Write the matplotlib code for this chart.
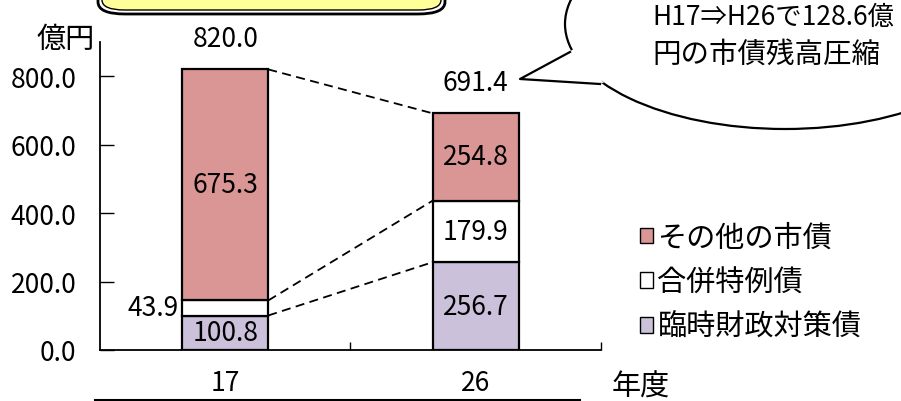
import matplotlib
matplotlib.use("Agg")
import matplotlib.pyplot as plt
import numpy as np
from matplotlib.patches import Patch, Ellipse, Polygon, FancyBboxPatch
from matplotlib.lines import Line2D

plt.rcParams['font.family'] = ['Noto Sans CJK JP', 'DejaVu Sans']

years = ["17", "26"]
rinji = [100.8, 256.7]      # 臨時財政対策債
gappei = [43.9, 179.9]      # 合併特例債
sonota = [675.3, 254.8]     # その他の市債
totals = [820.0, 691.4]

c_sonota = "#D99694"
c_gappei = "#FFFFFF"
c_rinji = "#CCC1DA"

W, H = 901, 402
fig = plt.figure(figsize=(W / 100, H / 100), dpi=100)


def fx(px):
    return px / W


def fy(py):
    return (H - py) / H


ax = fig.add_axes([fx(100), fy(351), fx(601) - fx(100), fy(43) - fy(351)])

x = np.arange(len(years))
bw = 0.343
b1 = np.array(rinji)
b2 = b1 + np.array(gappei)
ax.bar(x, rinji, bw, color=c_rinji, edgecolor="black", linewidth=1.6, zorder=3)
ax.bar(x, gappei, bw, bottom=b1, color=c_gappei, edgecolor="black", linewidth=1.6, zorder=3)
ax.bar(x, sonota, bw, bottom=b2, color=c_sonota, edgecolor="black", linewidth=1.6, zorder=3)

# dashed connectors between bars
for lvl in [b1, b2, np.array(totals)]:
    ax.plot([x[0] + bw / 2, x[1] - bw / 2], [lvl[0], lvl[1]], color="black",
            lw=1.3, dashes=(5, 3), zorder=2)

fs = 19
# segment labels
ax.text(x[0], rinji[0] / 2, f"{rinji[0]:.1f}", ha="center", va="center", fontsize=fs, zorder=4)
ax.text(x[0] - bw / 2 - 0.015, b1[0] + gappei[0] / 2, f"{gappei[0]:.1f}", ha="right", va="center",
        fontsize=fs, zorder=4)
ax.text(x[0], b2[0] + sonota[0] / 2, f"{sonota[0]:.1f}", ha="center", va="center", fontsize=fs, zorder=4)
ax.text(x[1], rinji[1] / 2, f"{rinji[1]:.1f}", ha="center", va="center", fontsize=fs, zorder=4)
ax.text(x[1], b1[1] + gappei[1] / 2, f"{gappei[1]:.1f}", ha="center", va="center", fontsize=fs, zorder=4)
ax.text(x[1], b2[1] + sonota[1] / 2, f"{sonota[1]:.1f}", ha="center", va="center", fontsize=fs, zorder=4)
for i in range(len(years)):
    ax.text(x[i], totals[i] + 50, f"{totals[i]:.1f}", ha="center", va="bottom", fontsize=fs)

ax.set_xlim(-0.5, 1.5)
ax.set_ylim(0, 900)
ax.set_yticks(np.arange(0, 801, 200))
ax.set_yticklabels([f"{v:.1f}" for v in np.arange(0, 801, 200)], fontsize=fs)
ax.set_xticks(x)
ax.set_xticklabels(years, fontsize=fs)
ax.set_xticks([0.5, 1.5], minor=True)
ax.tick_params(axis="y", direction="in", length=10, width=1, pad=17)
ax.tick_params(axis="x", which="major", length=0, pad=14)
ax.tick_params(axis="x", which="minor", direction="in", length=6, width=1)
for s in ["top", "right"]:
    ax.spines[s].set_visible(False)
for s in ["left", "bottom"]:
    ax.spines[s].set_linewidth(1.3)

fig.text(fx(95), fy(40), "億円", ha="right", va="center", fontsize=21)
fig.text(fx(612), fy(388), "年度", ha="left", va="center", fontsize=21)

handles = [Patch(facecolor=c_sonota, edgecolor="black", label="その他の市債"),
           Patch(facecolor=c_gappei, edgecolor="black", label="合併特例債"),
           Patch(facecolor=c_rinji, edgecolor="black", label="臨時財政対策債")]
fig.legend(handles=handles, loc="upper left", bbox_to_anchor=(fx(640), fy(224)),
           frameon=False, fontsize=21, handlelength=0.45, handleheight=0.45,
           handletextpad=0.15, labelspacing=0.5, borderpad=0, borderaxespad=0)

# speech bubble
ell = Ellipse((fx(785), fy(25)), fx(440), 210 / H, transform=fig.transFigure,
              facecolor="white", edgecolor="black", lw=1.6, zorder=5)
fig.patches.append(ell)
tail = Polygon([(fx(574), fy(50)), (fx(520), fy(80)), (fx(604), fy(84))], closed=True,
               transform=fig.transFigure, facecolor="white", edgecolor="none", zorder=6)
fig.patches.append(tail)
fig.lines.append(Line2D([fx(570), fx(520), fx(600)], [fy(53), fy(80), fy(85)],
                        transform=fig.transFigure, color="black", lw=1.6, zorder=7))
fig.text(fx(652), fy(17), "H17⇒H26で128.6億", ha="left", va="center", fontsize=19, zorder=8)
fig.text(fx(652), fy(55), "円の市債残高圧縮", ha="left", va="center", fontsize=20.5, zorder=8)

# yellow title box (cut off at top) and lower box edge
outer = FancyBboxPatch((fx(98), fy(15)), fx(445) - fx(98), 0.2,
                       boxstyle="round,pad=0,rounding_size=0.03", transform=fig.transFigure,
                       facecolor="white", edgecolor="black", lw=2.0, zorder=5)
inner = FancyBboxPatch((fx(102), fy(11)), fx(441) - fx(102), 0.2,
                       boxstyle="round,pad=0,rounding_size=0.025", transform=fig.transFigure,
                       facecolor="#FFFF99", edgecolor="black", lw=1.0, zorder=6)
fig.patches.extend([outer, inner])
fig.lines.append(Line2D([fx(95), fx(580)], [fy(401), fy(401)], transform=fig.transFigure,
                        color="black", lw=1.5))

fig.savefig("out.png", dpi=100)
